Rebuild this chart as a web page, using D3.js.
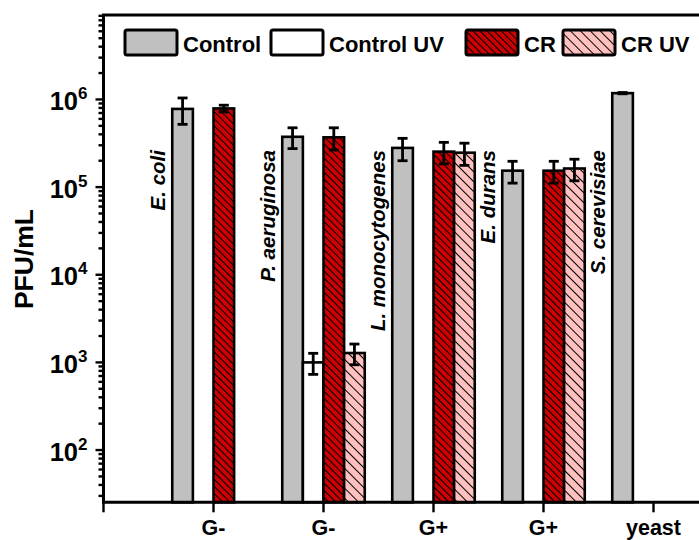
<!DOCTYPE html>
<html>
<head>
<meta charset="utf-8">
<script src="https://cdn.jsdelivr.net/npm/d3@7"></script>
<style>
  html, body { margin: 0; padding: 0; background: #fff; }
  svg { display: block; font-family: "Liberation Sans", Arial, sans-serif; }
</style>
</head>
<body>
<svg id="chart" width="699" height="540"></svg>
<script>
// ---------------- data ----------------
const groupPositions = [1, 2, 3, 4, 5];
const tickLabels = ["G-", "G-", "G+", "G+", "yeast"];
const speciesLabels = ["E. coli", "P. aeruginosa", "L. monocytogenes", "E. durans", "S. cerevisiae"];
const seriesNames = ["Control", "Control UV", "CR", "CR UV"];

const controlValues   = [7.8e5, 3.75e5, 2.8e5, 1.54e5, 1.18e6];
const controlErrors   = [2.6e5, 1.0e5, 0.8e5, 0.43e5, 0.02e6];
const controlUVValues = [null, 1000, null, null, null];
const controlUVErrors = [null, 270, null, null, null];
const crValues        = [7.9e5, 3.7e5, 2.54e5, 1.54e5, null];
const crErrors        = [0.7e5, 1.05e5, 0.7e5, 0.43e5, null];
const crUVValues      = [null, 1280, 2.47e5, 1.63e5, null];
const crUVErrors      = [null, 340, 0.7e5, 0.45e5, null];

const yTickValues = [1e2, 1e3, 1e4, 1e5, 1e6];
const yTickExponents = ["2", "3", "4", "5", "6"];

// ---------------- layout ----------------
const svg = d3.select("#chart");
const pLeft = 103.5, pRight = 763.5, pTop = 15, pBottom = 502.3;
const x = d3.scaleLinear().domain([0, 6]).range([pLeft, pRight]);
const y = d3.scaleLog().domain([Math.pow(10, 1.404), Math.pow(10, 6.9635)]).range([pBottom, pTop]);
const barW = 0.1875;
const fontFam = '"Liberation Sans", Arial, sans-serif';

// patterns
const defs = svg.append("defs");
function hatch(id, bg, s) {
  const p = defs.append("pattern").attr("id", id).attr("patternUnits", "userSpaceOnUse")
    .attr("width", s).attr("height", s).attr("patternTransform", "rotate(45)");
  p.append("rect").attr("width", s).attr("height", s).attr("fill", bg);
  p.append("line").attr("x1", 0).attr("x2", s).attr("y1", s / 2).attr("y2", s / 2)
    .attr("stroke", "#000").attr("stroke-width", 1);
}
hatch("hatchCR", "#CC0000", 5.0);
hatch("hatchCRUV", "#FFC0C0", 7.0);

const series = [
  { name: seriesNames[0], values: controlValues,   errors: controlErrors,   offset: -2, fill: "#C0C0C0" },
  { name: seriesNames[1], values: controlUVValues, errors: controlUVErrors, offset: -1, fill: "#FFFFFF" },
  { name: seriesNames[2], values: crValues,        errors: crErrors,        offset: 0,  fill: "url(#hatchCR)" },
  { name: seriesNames[3], values: crUVValues,      errors: crUVErrors,      offset: 1,  fill: "url(#hatchCRUV)" }
];

// bars
series.forEach(s => {
  const d = groupPositions.map((g, i) => ({ g, v: s.values[i], e: s.errors[i] })).filter(o => o.v != null);
  svg.append("g").selectAll("rect").data(d).join("rect")
    .attr("x", o => x(o.g + s.offset * barW))
    .attr("width", o => x(o.g + (s.offset + 1) * barW) - x(o.g + s.offset * barW))
    .attr("y", o => y(o.v))
    .attr("height", o => pBottom - y(o.v))
    .attr("fill", s.fill)
    .attr("stroke", "#000").attr("stroke-width", 2.6);
});

// error bars
series.forEach(s => {
  const d = groupPositions.map((g, i) => ({ g, v: s.values[i], e: s.errors[i] })).filter(o => o.v != null);
  const eg = svg.append("g").attr("stroke", "#000").attr("stroke-width", 2.8);
  d.forEach(o => {
    const cx = x(o.g + (s.offset + 0.5) * barW);
    const y1 = y(o.v + o.e), y0 = y(o.v - o.e);
    eg.append("line").attr("x1", cx).attr("x2", cx).attr("y1", y1).attr("y2", y0);
    eg.append("line").attr("x1", cx - 5).attr("x2", cx + 5).attr("y1", y1).attr("y2", y1);
    eg.append("line").attr("x1", cx - 5).attr("x2", cx + 5).attr("y1", y0).attr("y2", y0);
  });
});

// frame
svg.append("path")
  .attr("d", `M${pLeft},${pBottom} L${pLeft},${pTop} L${pRight},${pTop} L${pRight},${pBottom} Z`)
  .attr("fill", "none").attr("stroke", "#000").attr("stroke-width", 3);

// y axis ticks
const yg = svg.append("g").attr("stroke", "#000").attr("stroke-width", 2.4);
const dom = y.domain();
for (let e = 1; e <= 7; e++) {
  for (let k = 1; k <= 9; k++) {
    const v = k * Math.pow(10, e);
    if (v < dom[0] || v > dom[1]) continue;
    const len = k === 1 ? 8 : 5;
    yg.append("line").attr("x1", pLeft - len).attr("x2", pLeft).attr("y1", y(v)).attr("y2", y(v));
  }
}
yTickValues.forEach((v, i) => {
  const t = svg.append("text")
    .attr("x", 87.5).attr("y", y(v) + 10.5)
    .attr("text-anchor", "end")
    .attr("font-family", fontFam).attr("font-weight", "bold").attr("font-size", 25.5);
  t.append("tspan").text("10");
  t.append("tspan").attr("font-size", 17).attr("dy", -11).text(yTickExponents[i]);
});

// x axis ticks
const xg = svg.append("g").attr("stroke", "#000").attr("stroke-width", 2.4);
d3.range(0, 7).forEach(i => {
  xg.append("line").attr("x1", x(i)).attr("x2", x(i)).attr("y1", pBottom).attr("y2", pBottom + 10);
});
groupPositions.forEach((g, i) => {
  svg.append("text").attr("x", x(g)).attr("y", 535).attr("text-anchor", "middle")
    .attr("font-family", fontFam).attr("font-weight", "bold").attr("font-size", 21.5)
    .text(tickLabels[i]);
});

// species labels
groupPositions.forEach((g, i) => {
  svg.append("text")
    .attr("transform", `translate(${x(g) - 49},150) rotate(-90)`)
    .attr("text-anchor", "end")
    .attr("font-family", fontFam).attr("font-weight", "bold").attr("font-style", "italic")
    .attr("font-size", 20.5)
    .text(speciesLabels[i]);
});

// y title
svg.append("text")
  .attr("transform", "translate(33,259) rotate(-90)")
  .attr("text-anchor", "middle")
  .attr("font-family", fontFam).attr("font-weight", "bold").attr("font-size", 26.5)
  .text("PFU/mL");

// legend
const legendX = [125, 271, 466, 563];
const lg = svg.append("g");
series.forEach((s, i) => {
  lg.append("rect").attr("x", legendX[i]).attr("y", 30).attr("width", 52).attr("height", 25)
    .attr("rx", 2).attr("fill", s.fill).attr("stroke", "#000").attr("stroke-width", 3);
  lg.append("text").attr("x", legendX[i] + 58).attr("y", 51.5)
    .attr("font-family", fontFam).attr("font-weight", "bold").attr("font-size", 22)
    .text(s.name);
});
</script>
</body>
</html>
